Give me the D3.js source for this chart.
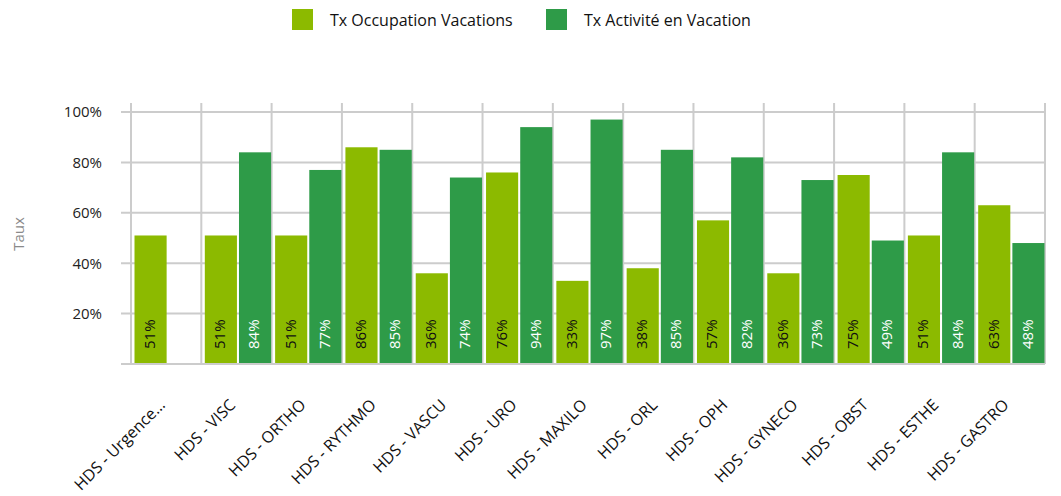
<!DOCTYPE html>
<html>
<head>
<meta charset="utf-8">
<script src="https://cdn.jsdelivr.net/npm/d3@7"></script>
<style>
  html, body { margin: 0; padding: 0; background: #fff; }
  svg { display: block; }
  text { font-family: "Open Sans", "Noto Sans", sans-serif; }
</style>
</head>
<body>
<svg id="chart" width="1061" height="496"></svg>
<script>
// Categories (surgical specialities)
const categories = [
  "HDS - Urgence…", "HDS - VISC", "HDS - ORTHO", "HDS - RYTHMO", "HDS - VASCU",
  "HDS - URO", "HDS - MAXILO", "HDS - ORL", "HDS - OPH", "HDS - GYNECO",
  "HDS - OBST", "HDS - ESTHE", "HDS - GASTRO"
];
// Series names
const seriesNames = ["Tx Occupation Vacations", "Tx Activité en Vacation"];
// Occupation rate per category (%)
const occupation = [51, 51, 51, 86, 36, 76, 33, 38, 57, 36, 75, 51, 63];
// Activity rate per category (%), no value for the first category
const activite = [null, 84, 77, 85, 74, 94, 97, 85, 82, 73, 49, 84, 48];
// Y axis ticks (fractions)
const yTicks = [0.2, 0.4, 0.6, 0.8, 1.0];

const colors = ["#8cba00", "#2e9b48"];
const labelColors = ["#111", "#fff"];

const svg = d3.select("#chart");

const plotLeft = 131, plotRight = 1045, plotTop = 103, plotBottom = 364;

const x0 = d3.scaleBand().domain(categories).range([plotLeft, plotRight]).padding(0);
const x1 = d3.scaleBand().domain(seriesNames)
  .range([3.5, x0.bandwidth() - 0.5]).paddingInner(0.06).paddingOuter(0);
const y = d3.scaleLinear().domain([0, 1]).range([plotBottom, 112]);

const grid = svg.append("g");
// horizontal gridlines
grid.selectAll("line.h").data(yTicks).join("line")
  .attr("x1", 121).attr("x2", plotRight)
  .attr("y1", d => y(d)).attr("y2", d => y(d))
  .attr("stroke", "#cccccc").attr("stroke-width", 2);
// vertical separators between categories
const bounds = categories.map(c => x0(c)).concat([plotRight]);
grid.selectAll("line.v").data(bounds).join("line")
  .attr("x1", d => d).attr("x2", d => d)
  .attr("y1", plotTop).attr("y2", plotBottom)
  .attr("stroke", "#cccccc").attr("stroke-width", 2);

// y tick labels
svg.append("g").selectAll("text").data(yTicks).join("text")
  .attr("x", 102).attr("y", d => y(d))
  .attr("dy", "0.36em")
  .attr("text-anchor", "end")
  .attr("font-size", 15)
  .attr("fill", "#222")
  .text(d => d3.format(".0%")(d));

// y axis title
svg.append("text")
  .attr("transform", `translate(24,234) rotate(-90)`)
  .attr("text-anchor", "middle")
  .attr("font-size", 15)
  .attr("fill", "#8a8a8a")
  .text("Taux");

// bars
const rows = categories.map((c, i) => ({
  cat: c,
  vals: [occupation[i], activite[i]]
}));

const groups = svg.append("g").selectAll("g").data(rows).join("g")
  .attr("transform", d => `translate(${x0(d.cat)},0)`);

groups.each(function(d) {
  const g = d3.select(this);
  d.vals.forEach((v, si) => {
    if (v == null) return;
    const bx = x1(seriesNames[si]);
    const bw = x1.bandwidth();
    g.append("rect")
      .attr("x", bx).attr("width", bw)
      .attr("y", y(v / 100)).attr("height", y(0) - y(v / 100))
      .attr("fill", colors[si]);
    g.append("text")
      .attr("transform", `translate(${bx + bw / 2 - 1},${plotBottom - 15}) rotate(-90)`)
      .attr("dy", "0.36em")
      .attr("text-anchor", "start")
      .attr("font-size", 15)
      .attr("fill", labelColors[si])
      .text(v + "%");
  });
});

// baseline
svg.append("line")
  .attr("x1", 121).attr("x2", plotRight)
  .attr("y1", y(0)).attr("y2", y(0))
  .attr("stroke", "#cccccc").attr("stroke-width", 2);

// x category labels
svg.append("g").selectAll("text").data(categories).join("text")
  .attr("transform", d => `translate(${x0(d) + x0.bandwidth() / 2},${plotBottom + 42}) rotate(-45)`)
  .attr("text-anchor", "end")
  .attr("font-size", 16)
  .attr("fill", "#111")
  .text(d => d);

// legend
const legend = svg.append("g");
const legendX = [292, 546];
seriesNames.forEach((s, i) => {
  legend.append("rect")
    .attr("x", legendX[i]).attr("y", 9)
    .attr("width", 21).attr("height", 21)
    .attr("fill", colors[i]);
  legend.append("text")
    .attr("x", legendX[i] + 38).attr("y", 20)
    .attr("dy", "0.36em")
    .attr("font-size", 16)
    .attr("fill", "#111")
    .text(s);
});
</script>
</body>
</html>
